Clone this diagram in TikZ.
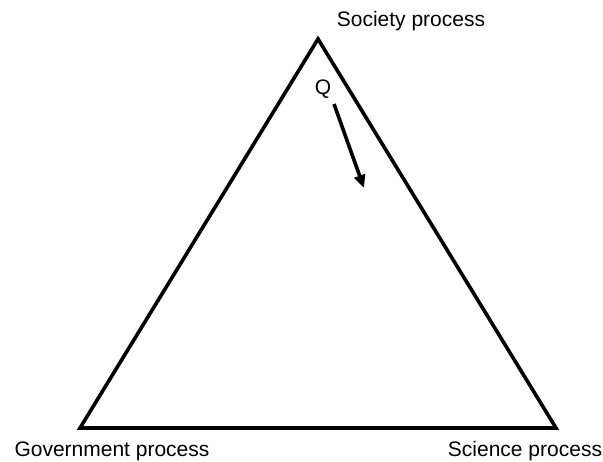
\documentclass[tikz,border=0pt]{standalone}
\usepackage{fontspec}
\setmainfont{Liberation Sans}
\usetikzlibrary{arrows.meta}
\begin{document}
\begin{tikzpicture}[x=1pt,y=1pt,
  edge/.style={line width=3.6pt, line join=miter},
  label/.style={font=\fontsize{21}{25}\selectfont, anchor=base, inner sep=0pt},
  flow/.style={line width=3.6pt, -{Triangle[length=13pt,width=11pt]}}]
\useasboundingbox (0,0) rectangle (603,462);
% triangle corners
\coordinate (top) at (318,423);
\coordinate (gov) at (80,34);
\coordinate (sci) at (556,34);
\draw[edge] (top) -- (gov) -- (sci) -- cycle;
% corner labels
\node[label] (soc) at (411,435) {Society process};
\node[label] (govl) at (112,5) {Government process};
\node[label] (scil) at (525,5) {Science process};
% movement of Q
\node[label] (q) at (323,367) {Q};
\coordinate (qs) at (334,358);
\coordinate (qe) at (364,274);
\draw[flow] (qs) -- (qe);
\end{tikzpicture}
\end{document}
